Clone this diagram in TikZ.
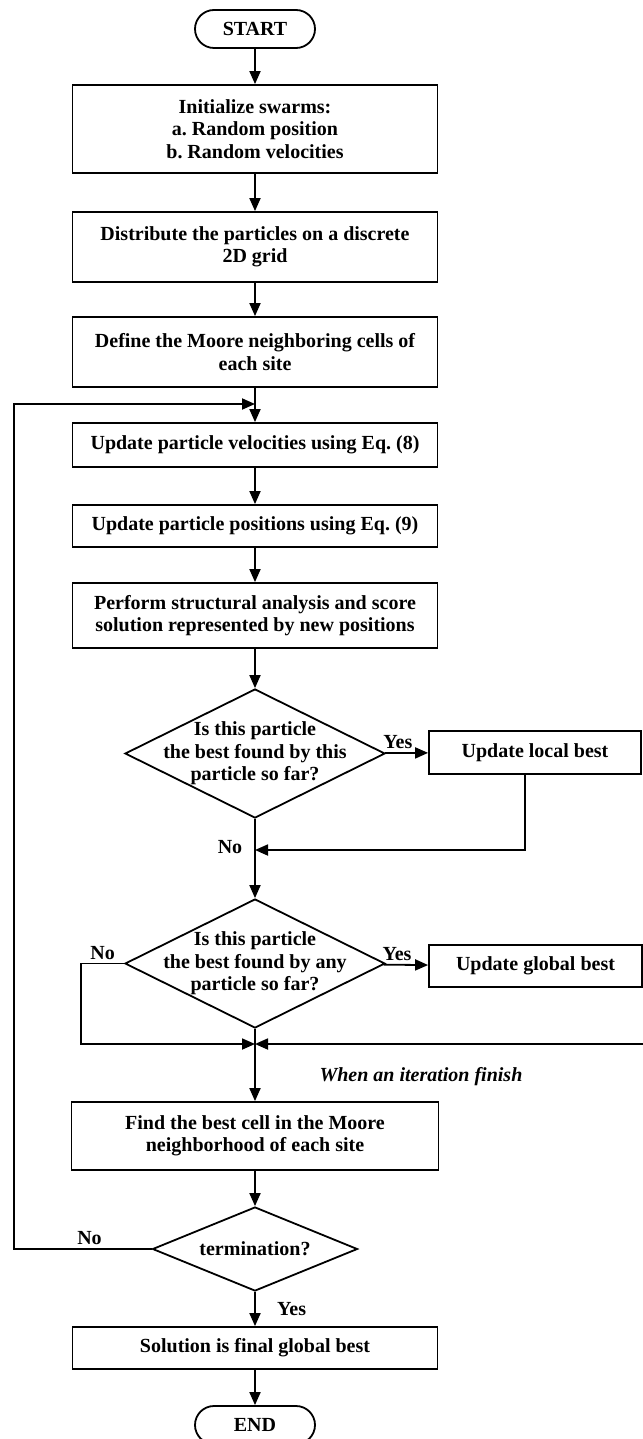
\documentclass[tikz,border=0pt]{standalone}
\usepackage{fontspec}
\setmainfont{Liberation Serif}
\usetikzlibrary{shapes.geometric,arrows.meta}
\frenchspacing

\begin{document}
\begin{tikzpicture}[x=1pt, y=-1pt,
	every node/.style={font=\fontsize{20}{22.5}\selectfont\bfseries},
	proc/.style={draw, line width=1.8pt, align=center, minimum width=365pt},
	term/.style={draw, line width=1.8pt, rounded corners=19pt, minimum width=120pt, minimum height=38pt},
	decision/.style={draw, diamond, line width=1.8pt, align=center, aspect=2, inner sep=-10pt},
	flow/.style={line width=1.8pt, -{Triangle[length=13pt, width=11pt]}}]
					\useasboundingbox (0,0) rectangle (642,1439);
					\node[term] (start) at (255,29) {START};
					\node[proc, minimum height=88pt] (init) at (255,129) {Initialize swarms:\\a. Random position\\b. Random velocities};
					\node[proc, minimum height=70pt] (grid) at (255,247) {Distribute the particles on a discrete\\2D grid};
					\node[proc, minimum height=70pt] (moore) at (255,352) {Define the Moore neighboring cells of\\each site};
					\node[proc, minimum height=44pt] (vel) at (255,445) {Update particle velocities using Eq. (8)};
					\node[proc, minimum height=42pt] (pos) at (255,526) {Update particle positions using Eq. (9)};
					\node[proc, minimum height=65pt] (score) at (255,615.5) {Perform structural analysis and score\\solution represented by new positions};
					\node[decision, minimum width=260pt, minimum height=129pt] (localq) at (255,753.5) {Is this particle\\the best found by this\\particle so far?};
					\node[proc, minimum width=212pt, minimum height=43pt] (localbest) at (535,752.5) {Update local best};
					\node[decision, minimum width=260pt, minimum height=129pt] (globalq) at (255,963.5) {Is this particle\\the best found by any\\particle so far?};
					\node[proc, minimum width=213pt, minimum height=42pt] (globalbest) at (535.5,966) {Update global best};
					\node[proc, minimum width=367pt, minimum height=68pt] (bestcell) at (255,1136) {Find the best cell in the Moore\\neighborhood of each site};
					\node[decision, minimum width=205pt, minimum height=84pt, inner sep=0pt, aspect=2.44] (termq) at (255,1249) {termination?};
					\node[proc, minimum height=42pt] (final) at (255,1348) {Solution is final global best};
					\node[term] (end) at (255,1425) {END};
					\coordinate (loopin) at (255,404);
					\coordinate (localin) at (255,850);
					\coordinate (merge) at (255,1044);

					\draw[flow] (start) -- (init);
					\draw[flow] (init) -- (grid);
					\draw[flow] (grid) -- (moore);
					\draw[flow] (moore) -- (vel);
					\draw[flow] (vel) -- (pos);
					\draw[flow] (pos) -- (score);
					\draw[flow] (score) -- (localq);
					\draw[flow] (localq) -- node[pos=0.3, above] {Yes} (localbest);
					\draw[flow] ([xshift=-10pt]localbest.south) |- (localin);
					\draw[flow] (localq) -- (globalq);
					\node (nolocal) at (230,847) {No};
					\draw[flow] (globalq) -- node[pos=0.3, above] {Yes} (globalbest);
					\draw[flow] (globalbest.east) -- ++(30,0) |- (merge);
					\draw[flow] (globalq.west) -- node[above] {No} ++(-43,0) |- (merge);
					\draw[flow] (globalq) -- (bestcell);
					\node[anchor=west, font=\fontsize{20}{22.5}\selectfont\bfseries\itshape] (iteration) at (316,1077) {When an iteration finish};
					\draw[flow] (bestcell) -- (termq);
					\draw[flow] (termq.west) -- node[pos=0.45, above] {No} ++(-138,0) |- (loopin);
					\draw[flow] (termq) -- node[right=18pt] {Yes} (final);
					\draw[flow] (final) -- (end);
				\end{tikzpicture}
\end{document}
